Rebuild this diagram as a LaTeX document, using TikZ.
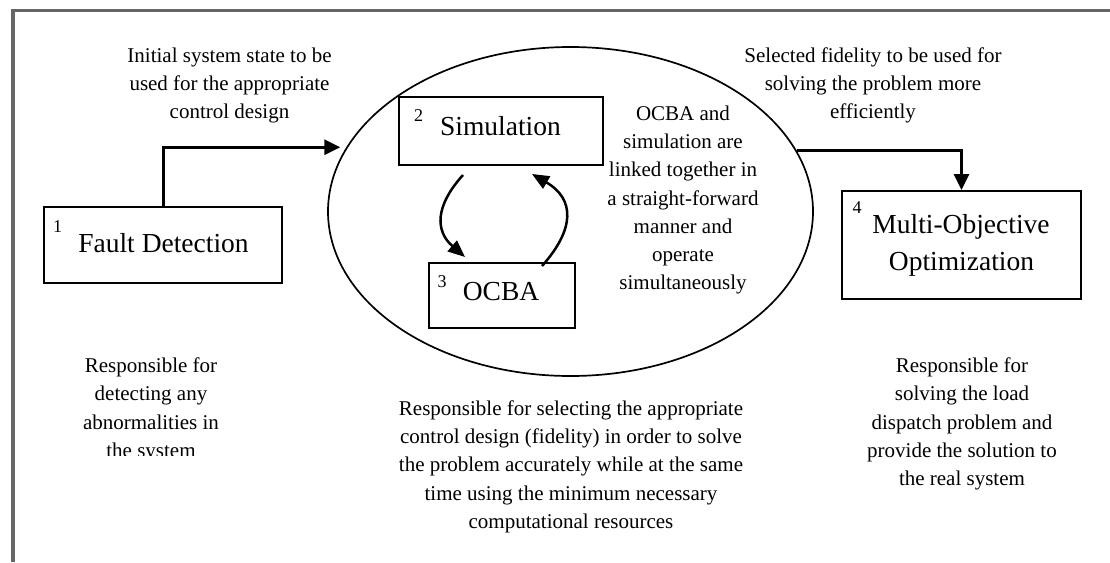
\documentclass[tikz,border=0pt]{standalone}
\usepackage{fontspec}
\setmainfont{Liberation Serif}
\usetikzlibrary{arrows.meta,shapes.geometric}

\newcommand\bodytext{\fontsize{21}{28.3}\selectfont}
\newcommand\boxtext{\fontsize{27.5}{37}\selectfont}
\newcommand\indextext{\fontsize{18}{18}\selectfont}

\tikzset{
  frameline/.style={draw=black!60, line width=3.5pt},
  stagebox/.style={draw, line width=2pt, rectangle, inner sep=0pt},
  stagename/.style={font=\boxtext, anchor=base, inner sep=0pt},
  stageindex/.style={font=\indextext, anchor=base, inner sep=0pt},
  note/.style={font=\bodytext, align=center, inner sep=0pt},
  flow/.style={line width=3pt, -{Triangle[length=16pt,width=15pt]}},
  loop/.style={line width=2.5pt, -{Triangle[length=17pt,width=14pt]}},
}

\begin{document}
\begin{tikzpicture}[x=1pt, y=-1pt]
\useasboundingbox (0,0) rectangle (1110,562);

% outer frame (top and left edges)
\draw[frameline] (11,10.3) -- (1110,10.3);
\draw[frameline] (13,8.5) -- (13,562);

% stage boxes
\node[stagebox, minimum width=238pt, minimum height=76pt] (fault) at (163,245) {};
\node[stagebox, minimum width=204pt, minimum height=68pt] (sim) at (501,131) {};
\node[stagebox, minimum width=146pt, minimum height=65pt] (ocba) at (502,295.5) {};
\node[stagebox, minimum width=239pt, minimum height=108pt] (moo) at (961.5,245) {};

% ellipse around simulation and OCBA
\node[draw, ellipse, line width=1.7pt, minimum width=485pt, minimum height=329pt, inner sep=0pt] (ell) at (570.5,211.5) {};

% stage names and numbers
\node[stagename] (faultname) at (163.5,252.7) {Fault Detection};
\node[stageindex] (faultidx) at (57.5,232) {1};
\node[stagename] (simname) at (500.5,135) {Simulation};
\node[stageindex] (simidx) at (418.5,121) {2};
\node[stagename] (ocbaname) at (501,300) {OCBA};
\node[stageindex] (ocbaidx) at (442,287) {3};
\node[stagename] (mooname1) at (961,233) {Multi-Objective};
\node[stagename] (mooname2) at (961.5,270.5) {Optimization};
\node[stageindex] (mooidx) at (857,213) {4};

% connectors
\draw[flow, shorten >=6pt] (fault.north) |- (ell.164.7);
\draw[flow] (ell.15.85) -| (moo.north);
\draw[loop] ([xshift=-38pt,yshift=-9pt]sim.south)
  .. controls ([xshift=-66pt,yshift=-40pt]sim.south) and ([xshift=-66pt,yshift=-65pt]sim.south)
  .. ([xshift=-37pt,yshift=5pt]ocba.north);
\draw[loop] ([xshift=40pt,yshift=-4pt]ocba.north)
  .. controls ([xshift=73pt,yshift=33pt]ocba.north) and ([xshift=73pt,yshift=63pt]ocba.north)
  .. ([xshift=31pt,yshift=-8pt]sim.south);

% annotations
\node[note] (initnote) at (229.5,85.5) {Initial system state to be\\used for the appropriate\\control design};
\node[note] (selnote) at (873,85.5) {Selected fidelity to be used for\\solving the problem more\\efficiently};
\node[note] (linknote) at (683,200) {OCBA and\\simulation are\\linked together in\\a straight-forward\\manner and\\operate\\simultaneously};
\begin{scope}
  \clip (20,300) rectangle (320,455);
  \node[note] (faultnote) at (151,410) {Responsible for\\detecting any\\abnormalities in\\the system};
\end{scope}
\node[note] (ocbanote) at (571,466.7) {Responsible for selecting the appropriate\\control design (fidelity) in order to solve\\the problem accurately while at the same\\time using the minimum necessary\\computational resources};
\node[note] (moonote) at (962,424) {Responsible for\\solving the load\\dispatch problem and\\provide the solution to\\the real system};
\end{tikzpicture}
\end{document}
